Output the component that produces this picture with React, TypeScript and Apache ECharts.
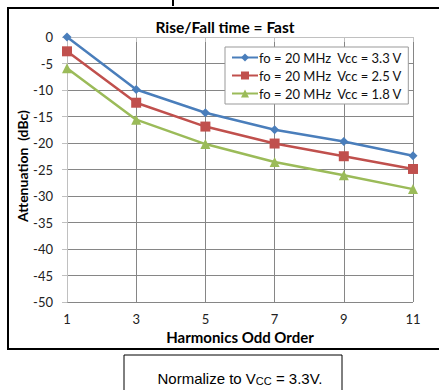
import React, { useEffect, useRef } from "react";
import * as echarts from "echarts";

const categories = ["1", "3", "5", "7", "9", "11"];
const seriesNames = [
  "fo = 20 MHz  Vcc = 3.3 V",
  "fo = 20 MHz  Vcc = 2.5 V",
  "fo = 20 MHz  Vcc = 1.8 V",
];
const vcc33 = [0, -9.9, -14.3, -17.5, -19.7, -22.4];
const vcc25 = [-2.7, -12.4, -16.9, -20.1, -22.5, -24.9];
const vcc18 = [-5.9, -15.6, -20.2, -23.6, -26.1, -28.7];
const yTicks = { min: -50, max: 0, interval: 5 };
const yAxisTitle = "Attenuation  (dBc)";

const colors = ["#4a7ebb", "#c0504d", "#9bbb59"];
const symbols = ["diamond", "rect", "triangle"];
const symbolSizes = [9, 10, 10];

export default function App() {
  const ref = useRef<HTMLDivElement>(null);
  useEffect(() => {
    const chart = echarts.init(ref.current!, null, { renderer: "svg" });
    const font = "Lato, 'Open Sans', sans-serif";
    const data = [vcc33, vcc25, vcc18];
    chart.setOption({
      animation: false,
      backgroundColor: "#ffffff",
      textStyle: { fontFamily: font },
      grid: { left: 67, right: 26, top: 37, bottom: 88 },
      legend: {
        orient: "vertical",
        left: 225,
        top: 47,
        padding: [4, 6, 4, 6],
        itemGap: 5,
        itemWidth: 26,
        itemHeight: 10,
        backgroundColor: "#ffffff",
        borderColor: "#999999",
        borderWidth: 1,
        textStyle: { fontFamily: font, fontSize: 13, color: "#111", padding: [0, 0, 0, -4] },
        data: seriesNames,
      },
      xAxis: {
        type: "category",
        data: categories,
        boundaryGap: false,
        name: "Harmonics Odd Order",
        nameLocation: "middle",
        nameGap: 27,
        nameTextStyle: { fontFamily: font, fontSize: 15, fontWeight: "bold", color: "#000" },
        axisLine: { lineStyle: { color: "#c0c0c0", width: 1 } },
        axisTick: { show: true, length: 5, lineStyle: { color: "#c0c0c0" } },
        axisLabel: { fontFamily: font, fontSize: 13, color: "#222", margin: 10 },
        splitLine: { show: true, lineStyle: { color: "#868686", width: 1 } },
      },
      yAxis: {
        type: "value",
        min: yTicks.min,
        max: yTicks.max,
        interval: yTicks.interval,
        axisLine: { show: true, lineStyle: { color: "#c0c0c0", width: 1 } },
        axisTick: { show: true, length: 5, lineStyle: { color: "#c0c0c0" } },
        axisLabel: { fontFamily: font, fontSize: 13, color: "#222", margin: 14 },
        splitLine: { show: true, lineStyle: { color: "#868686", width: 1 } },
      },
      series: data.map((d, i) => ({
        name: seriesNames[i],
        type: "line",
        data: d,
        symbol: symbols[i],
        symbolSize: symbolSizes[i],
        showAllSymbol: true,
        lineStyle: { color: colors[i], width: 2.5 },
        itemStyle: { color: colors[i] },
        z: 3 - i + 2,
      })),
      graphic: [
        {
          type: "rect",
          shape: { x: 8, y: 8, width: 440, height: 341 },
          style: { fill: "none", stroke: "#000", lineWidth: 2 },
          silent: true,
          z: 10,
        },
        {
          type: "line",
          shape: { x1: 173, y1: 0, x2: 173, y2: 6 },
          style: { stroke: "#000", lineWidth: 2 },
        },
        {
          type: "text",
          x: 22,
          y: 166,
          rotation: Math.PI / 2,
          style: {
            text: yAxisTitle,
            fontFamily: font,
            fontSize: 14,
            fontWeight: "bold",
            fill: "#000",
            align: "center",
            verticalAlign: "middle",
          },
        },
        {
          type: "text",
          x: 225,
          y: 27,
          style: {
            text: "Rise/Fall time = Fast",
            fontFamily: font,
            fontSize: 15.5,
            fontWeight: "bold",
            fill: "#000",
            align: "center",
            verticalAlign: "middle",
          },
        },
        {
          type: "rect",
          shape: { x: 124, y: 355, width: 218, height: 50 },
          style: { fill: "#fff", stroke: "#000", lineWidth: 1 },
        },
        {
          type: "text",
          x: 240,
          y: 377,
          style: {
            text: "{a|Normalize to V}{b|CC}{a| = 3.3V.}",
            align: "center",
            verticalAlign: "middle",
            rich: {
              a: { fontFamily: "'Liberation Sans', Arial, sans-serif", fontSize: 15, fill: "#000", verticalAlign: "bottom", lineHeight: 18 },
              b: { fontFamily: "'Liberation Sans', Arial, sans-serif", fontSize: 11, fill: "#000", verticalAlign: "bottom", lineHeight: 16 },
            },
          },
        },
      ],
    });
    return () => chart.dispose();
  }, []);
  return (
    <div
      ref={ref}
      style={{ position: "absolute", left: 0, top: 0, width: 439, height: 390 }}
    />
  );
}
